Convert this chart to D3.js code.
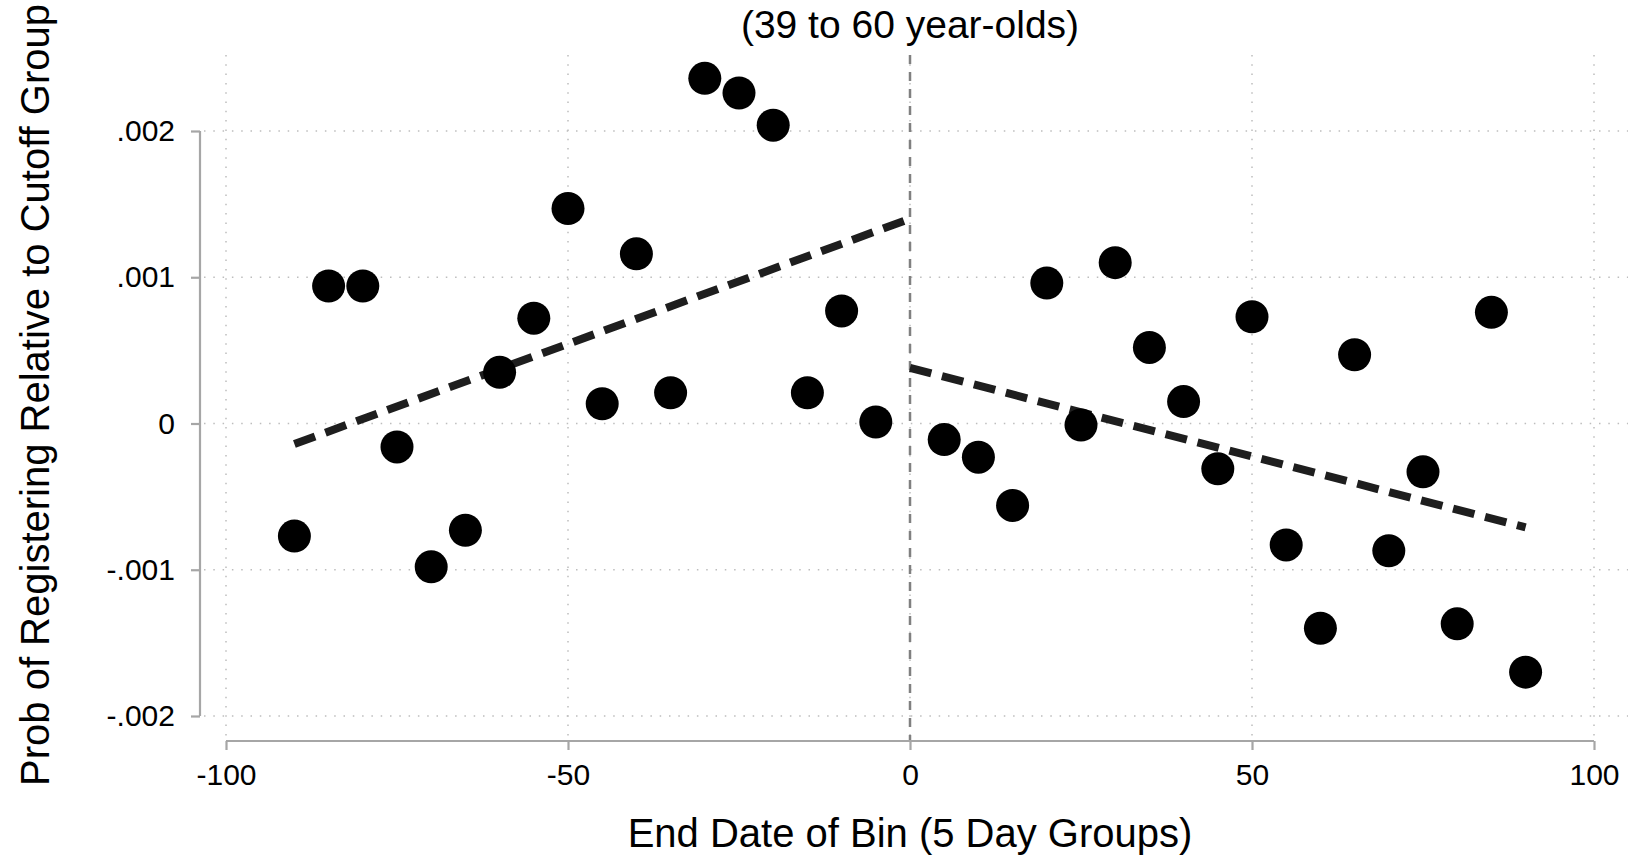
<!DOCTYPE html>
<html>
<head>
<meta charset="utf-8">
<script src="https://cdn.jsdelivr.net/npm/d3@7"></script>
<style>
  body { margin: 0; background: #fff; }
  svg { display: block; }
  text { font-family: "Liberation Sans", Arial, sans-serif; fill: #000; }
</style>
</head>
<body>
<script>
// bins (end date, 5 day groups)
var binDays = [-90, -85, -80, -75, -70, -65, -60, -55, -50, -45, -40, -35, -30, -25, -20, -15, -10, -5,
               5, 10, 15, 20, 25, 30, 35, 40, 45, 50, 55, 60, 65, 70, 75, 80, 85, 90];
var probValues = [-0.00077, 0.00094, 0.00094, -0.00016, -0.00098, -0.00073, 0.00035, 0.00072, 0.00147,
                  0.000135, 0.00116, 0.00021, 0.00236, 0.00226, 0.00204, 0.00021, 0.00077, 0.00001,
                  -0.00011, -0.00023, -0.00056, 0.00096, -0.00001, 0.0011, 0.00052, 0.00015, -0.00031,
                  0.00073, -0.00083, -0.0014, 0.00047, -0.00087, -0.00033, -0.00137, 0.00076, -0.0017];

// linear fits on each side of the cutoff
var fitLeft = [[-90, -0.00014], [0, 0.0014]];
var fitRight = [[0, 0.00038], [90, -0.00071]];

var xTicks = [-100, -50, 0, 50, 100];
var xTickLabels = ['-100', '-50', '0', '50', '100'];
var yTicks = [-0.002, -0.001, 0, 0.001, 0.002];
var yTickLabels = ['-.002', '-.001', '0', '.001', '.002'];

var titleText = '(39 to 60 year-olds)';
var xTitle = 'End Date of Bin (5 Day Groups)';
var yTitle = 'Prob of Registering Relative to Cutoff Group';

var width = 1628, height = 860;

var svg = d3.select('body').append('svg')
    .attr('width', width)
    .attr('height', height);

var x = d3.scaleLinear().domain([-100, 100]).range([226, 1594]);
var y = d3.scaleLinear().domain([-0.002, 0.002]).range([716, 131]);

var gridTop = 55, gridBottom = 736, gridLeft = 204, gridRight = 1628;

// dotted grid
svg.append('g')
    .selectAll('line')
    .data(yTicks)
    .enter()
    .append('line')
    .attr('x1', gridLeft)
    .attr('x2', gridRight)
    .attr('y1', function (d) { return y(d); })
    .attr('y2', function (d) { return y(d); })
    .attr('stroke', '#bdbdbd')
    .attr('stroke-width', 1.5)
    .attr('stroke-dasharray', '1.5 7.8');

svg.append('g')
    .selectAll('line')
    .data(xTicks)
    .enter()
    .append('line')
    .attr('x1', function (d) { return x(d); })
    .attr('x2', function (d) { return x(d); })
    .attr('y1', gridTop)
    .attr('y2', gridBottom)
    .attr('stroke', '#bdbdbd')
    .attr('stroke-width', 1.5)
    .attr('stroke-dasharray', '1.5 7.8');

// cutoff line
svg.append('line')
    .attr('x1', x(0))
    .attr('x2', x(0))
    .attr('y1', gridTop)
    .attr('y2', 741)
    .attr('stroke', '#808080')
    .attr('stroke-width', 2.5)
    .attr('stroke-dasharray', '9 8');

// y axis
var yAxis = d3.axisLeft(y)
    .tickValues(yTicks)
    .tickFormat(function (d, i) { return yTickLabels[i]; })
    .tickSize(9)
    .tickPadding(16);

var gy = svg.append('g')
    .attr('transform', 'translate(200,0)')
    .call(yAxis);

// x axis
var xAxis = d3.axisBottom(x)
    .tickValues(xTicks)
    .tickFormat(function (d, i) { return xTickLabels[i]; })
    .tickSize(9)
    .tickPadding(14);

var gx = svg.append('g')
    .attr('transform', 'translate(0,741)')
    .call(xAxis);

[gx, gy].forEach(function (g) {
    g.select('.domain').attr('stroke', '#a6a6a6').attr('stroke-width', 2.2);
    g.selectAll('.tick line').attr('stroke', '#a6a6a6').attr('stroke-width', 2.2);
    g.selectAll('.tick text')
        .style('font-size', '30px')
        .attr('fill', '#000');
});
// no end caps on the axis lines
gx.select('.domain').attr('d', 'M' + x(-100) + ',0H' + x(100));
gy.select('.domain').attr('d', 'M0,' + y(-0.002) + 'V' + y(0.002));

// fit lines
var line = d3.line()
    .x(function (d) { return x(d[0]); })
    .y(function (d) { return y(d[1]); });

[fitLeft, fitRight].forEach(function (f) {
    svg.append('path')
        .datum(f)
        .attr('d', line)
        .attr('fill', 'none')
        .attr('stroke', '#1e1e1e')
        .attr('stroke-width', 8)
        .attr('stroke-dasharray', '22 11');
});

// points
svg.append('g')
    .selectAll('circle')
    .data(binDays)
    .enter()
    .append('circle')
    .attr('cx', function (d) { return x(d); })
    .attr('cy', function (d, i) { return y(probValues[i]); })
    .attr('r', 16.5)
    .attr('fill', '#000');

// titles
svg.append('text')
    .attr('x', x(0))
    .attr('y', 38)
    .attr('text-anchor', 'middle')
    .style('font-size', '39px')
    .text(titleText);

svg.append('text')
    .attr('x', x(0))
    .attr('y', 847)
    .attr('text-anchor', 'middle')
    .style('font-size', '40px')
    .text(xTitle);

svg.append('text')
    .attr('transform', 'translate(49,395) rotate(-90)')
    .attr('text-anchor', 'middle')
    .style('font-size', '40px')
    .text(yTitle);
</script>
</body>
</html>
